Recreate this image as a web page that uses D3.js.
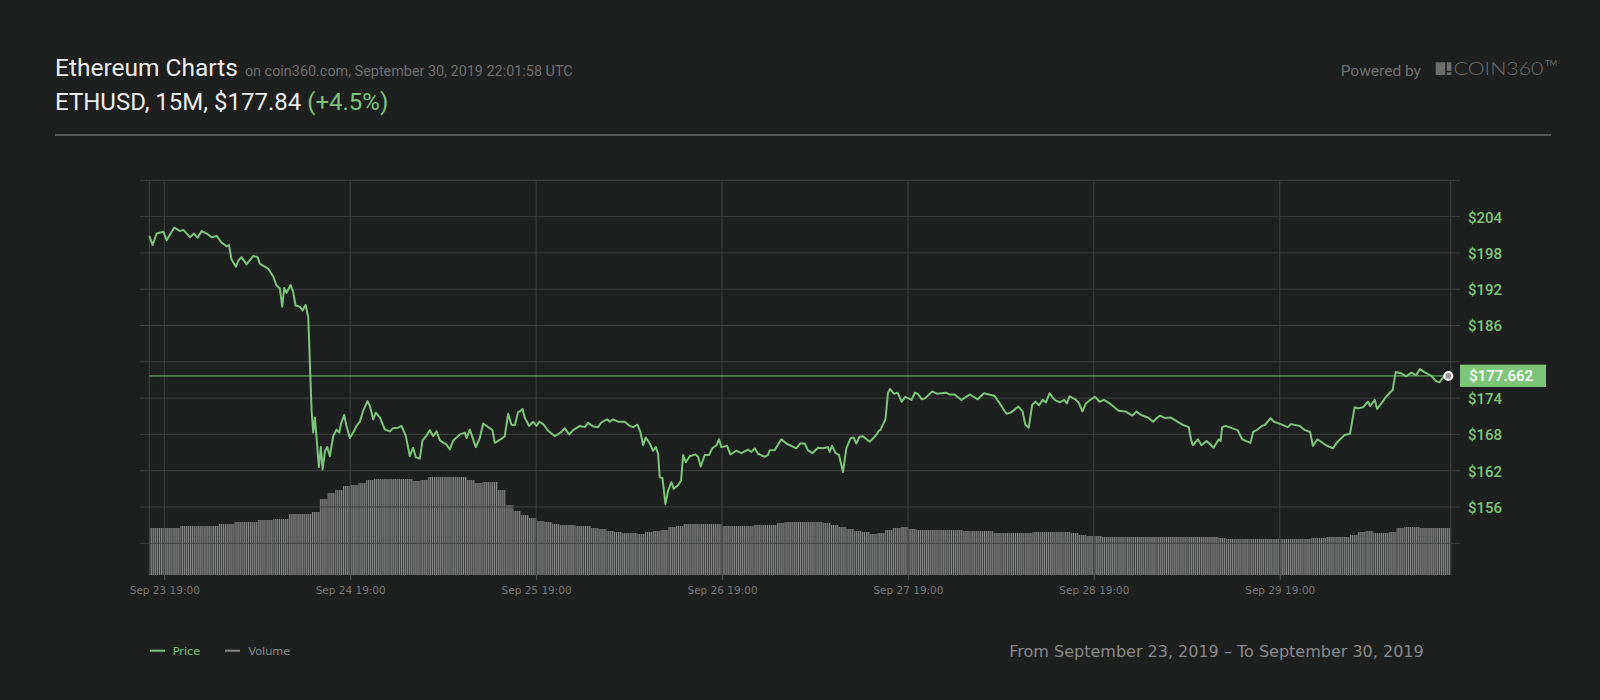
<!DOCTYPE html>
<html><head><meta charset="utf-8">
<script src="https://cdn.jsdelivr.net/npm/d3@7"></script>
<style>
html,body{margin:0;padding:0;background:#1e1f1f;}
svg{display:block;}
</style></head><body>
<svg id="chart" width="1600" height="700"></svg>
<script>
// ---------- DATA ----------
const startTime = Date.UTC(2019, 8, 23, 17, 4);   // left edge of the plot
const spanHours = 168;

// price points: hours after startTime, and price in USD
const priceHours = [
  0,0.43,0.95,1.81,2.24,2.88,3.23,3.96,4.39,5.25,5.76,6.24,6.75,7.40,8.04,8.69,9.33,9.98,10.28,10.62,
  11.18,11.48,11.91,12.56,13.42,13.98,14.28,15.35,16.00,16.43,16.86,17.16,17.42,17.72,18.24,18.58,18.88,19.44,19.78,20.17,
  20.52,20.73,20.95,21.16,21.38,21.59,21.89,22.15,22.37,22.67,22.97,23.31,23.74,24.17,24.52,24.73,25.16,25.46,25.89,26.32,
  26.75,27.18,27.61,28.17,28.47,28.90,29.25,29.76,30.41,31.05,31.48,32.13,32.56,33.12,33.63,34.06,34.41,34.92,35.27,35.78,
  36.22,36.65,37.08,37.51,38.37,38.80,39.23,40.09,40.73,40.95,41.38,42.15,42.67,43.10,44.30,44.60,45.59,45.89,46.32,46.75,
  47.18,47.61,47.83,48.18,48.48,49.04,49.55,49.98,50.33,50.84,51.49,52.35,53.0,53.64,54.2,54.72,55.58,56.22,56.65,57.3,
  57.94,58.37,59.1,59.45,59.88,60.52,61.38,62.02,62.45,63.01,63.4,63.75,64.09,64.6,65.03,65.38,65.68,65.89,66.24,66.63,
  66.97,67.4,67.7,68.26,68.65,68.91,69.25,69.77,70.5,70.84,71.19,71.7,72.26,72.69,73.21,73.55,73.85,74.58,75.01,75.79,
  76.43,77.29,77.72,78.15,78.58,79.44,79.87,80.09,80.73,81.59,82.24,83.53,84.04,84.6,85.03,85.59,86.32,86.97,87.61,87.83,
  88.13,88.6,89.03,89.55,89.98,90.54,90.92,91.27,91.7,92.13,92.99,93.64,94.2,94.37,95.03,95.35,95.61,96.15,96.6,96.83,
  97.14,97.58,97.94,98.39,98.83,99.28,99.72,100.17,101.06,101.73,102.84,103.29,103.95,104.84,105.96,106.94,107.74,109.08,109.75,110.64,
  111.2,112.19,112.73,113.09,113.53,113.97,114.42,114.86,115.31,115.76,116.21,116.88,117.55,118.12,118.44,118.8,119.55,120.0,120.45,120.9,
  121.56,122.09,122.67,123.25,124.01,125.12,126.01,126.9,127.44,128.02,128.91,129.59,130.03,130.48,131.15,131.82,132.71,133.38,134.18,134.49,
  134.71,135.38,135.83,136.5,137.39,138.06,138.29,138.5,138.94,139.84,140.5,141.08,141.61,142.15,142.5,142.95,143.62,144.06,144.73,145.18,
  146.07,146.95,147.4,148.52,149.19,149.86,150.2,150.8,151.9,152.8,153.4,154.3,155.0,155.6,156.0,156.7,157.3,157.6,158.2,158.5,
  159.1,159.7,160.3,160.5,160.9,161.6,162.25,162.89,163.54,164.05,164.6,165.47,166.12,166.54,166.97,167.4,167.7
];
const priceValues = [
  200.8,199.3,201.2,201.5,200.1,201.5,202.2,201.6,201.8,200.6,201.2,200.5,201.6,201.2,200.6,200.8,199.7,199.1,199.3,196.9,
  195.7,196.7,197.3,196.1,197.5,197.3,196.2,195.4,194.1,192.6,192.1,189.1,192.2,191.4,192.7,191.5,189.3,189.1,188.5,189.4,
  187.4,179.8,171.9,168.3,170.8,167.5,162.6,165.9,162.2,165.2,165.9,164.4,167.7,168.8,168.3,169.7,171.2,169.4,167.4,168.3,
  169.4,170.1,171.9,173.5,172.7,170.5,171.6,170.8,168.8,168.5,169.0,169.1,169.4,167.7,164.4,165.8,164.2,164.0,167.0,167.8,
  168.7,167.7,168.5,167.0,166.3,165.5,167.0,168.0,168.3,167.4,168.8,165.9,167.4,169.8,168.7,166.6,167.4,167.7,171.4,169.6,
  169.5,171.7,171.8,172.2,170.7,169.4,170.1,169.4,170.1,169.7,168.6,167.7,168.2,169.0,168.0,168.7,169.4,169.2,169.9,169.3,
  169.2,170.0,170.5,170.1,170.5,170.1,170.1,169.4,169.2,169.6,168.4,166.2,167.5,166.5,165.3,165.9,164.8,160.9,160.8,156.5,
  158.7,160.1,159.0,159.6,160.4,164.6,163.4,164.4,164.7,164.3,162.7,164.6,164.6,165.7,166.2,167.2,165.9,166.1,164.7,165.3,
  164.9,165.5,165.1,165.7,164.8,164.3,164.6,165.4,165.4,167.2,166.5,165.7,166.5,166.5,165.4,164.9,165.8,165.7,165.9,165.1,
  166.1,164.9,164.6,161.8,165.7,167.4,167.5,166.5,167.6,167.7,166.8,167.6,168.6,168.7,170.5,174.8,175.5,174.7,174.9,174.2,
  173.4,174.2,174.0,173.7,174.9,174.6,173.8,174.0,175.1,174.7,174.9,174.6,174.6,173.7,174.6,173.8,174.8,174.4,173.2,171.4,
  171.6,172.6,171.8,169.6,169.1,172.9,173.4,172.8,173.7,173.3,174.8,173.7,173.3,173.7,173.1,174.3,173.8,173.2,171.8,173.1,
  173.8,174.2,173.4,173.7,173.1,171.9,171.8,171.1,171.8,171.2,170.8,170.1,170.7,171.1,170.7,170.8,170.1,169.6,169.2,167.1,
  166.2,167.2,166.2,166.9,165.8,167.2,166.9,169.2,169.4,169.0,168.7,167.2,166.9,166.6,168.4,168.7,169.4,169.6,170.7,170.1,
  169.7,169.2,169.7,169.4,168.7,168.4,166.1,167.2,166.2,165.7,166.8,167.9,168.1,172.5,172.3,172.5,173.4,172.7,173.7,172.2,
  173.2,174.3,175.1,175.3,178.3,178.1,177.6,178.2,177.8,178.8,178.3,177.7,176.8,176.6,177.3,177.9,177.66
];

// hourly volume (relative bar height), one value per hour from startTime
const volumeValues = [
  47,47,47,47,49,49,49,49,49,51,51,53,53,53,55,55,56,56,61,61,61,63,76,82,
  85,89,90,92,95,96,96,96,96,96,94,95,98,98,98,98,98,95,92,93,93,85,70,64,
  60,57,54,53,51,50,50,49,49,47,46,44,43,42,42,41,43,44,45,48,49,51,51,51,
  51,51,49,49,49,49,50,50,50,52,53,53,53,53,53,52,50,48,46,44,43,41,42,45,
  47,48,46,45,45,45,45,45,45,44,44,44,44,42,42,42,42,42,43,43,43,43,43,42,
  40,39,39,38,38,38,38,38,38,38,38,38,38,38,38,38,38,38,37,36,36,36,36,36,
  36,36,36,36,36,36,37,37,38,38,38,40,43,44,42,42,43,47,48,48,47,47,47,47
];

const priceGrid = [150,156,162,168,174,180,186,192,198,204,210];
const priceLabels = [156,162,168,174,186,192,198,204];
const dateTicks = ["2019-09-23T19:00:00Z","2019-09-24T19:00:00Z","2019-09-25T19:00:00Z",
  "2019-09-26T19:00:00Z","2019-09-27T19:00:00Z","2019-09-28T19:00:00Z","2019-09-29T19:00:00Z"];
const lastPrice = 177.662;

// ---------- STYLE ----------
const GREEN = "#7cc579";
const GRID = "#3f4040";
const plot = {left:149.3, right:1450.7, top:180.3, price150:543.3, bottom:575};

const svg = d3.select("#chart");
svg.append("rect").attr("width",1600).attr("height",700).attr("fill","#1e1f1f");

const x = d3.scaleUtc()
  .domain([new Date(startTime), new Date(startTime + spanHours*3600e3)])
  .range([plot.left, plot.right]);
const y = d3.scaleLinear().domain([150,210]).range([plot.price150, plot.top]);
const yVol = d3.scaleLinear().domain([0,100]).range([plot.bottom, plot.bottom-100]);
const hourDate = h => new Date(startTime + h*3600e3);

// pattern for thin volume bars
const defs = svg.append("defs");
const pat = defs.append("pattern").attr("id","stripes").attr("patternUnits","userSpaceOnUse")
  .attr("x", plot.left).attr("y",0).attr("width", (x(hourDate(1))-x(hourDate(0)))/4).attr("height",20);
pat.append("rect").attr("width",1.25).attr("height",20).attr("fill","#8a8a8a");

// ---------- HEADER ----------
const t1 = svg.append("text").attr("x",55).attr("y",76)
  .attr("font-family","Roboto").attr("font-size",24.5).attr("fill","#ececec").text("Ethereum Charts");
const w1 = t1.node().getComputedTextLength();
svg.append("text").attr("x",55+w1+7).attr("y",76)
  .attr("font-family","Roboto").attr("font-size",14.4).attr("fill","#707070")
  .text("on coin360.com, September 30, 2019 22:01:58 UTC");
const t2 = svg.append("text").attr("x",55).attr("y",109.5)
  .attr("font-family","Roboto").attr("font-size",24).attr("fill","#ececec");
t2.append("tspan").text("ETHUSD, 15M, $177.84 ");
t2.append("tspan").attr("fill",GREEN).text("(+4.5%)");

svg.append("text").attr("x",1340.7).attr("y",75.5)
  .attr("font-family","Roboto").attr("font-size",15.5).attr("fill","#727272").text("Powered by");
// logo
svg.append("rect").attr("x",1435.7).attr("y",62.3).attr("width",9.5).attr("height",12.7).attr("fill","#6e6e6e");
svg.append("rect").attr("x",1446.8).attr("y",62.3).attr("width",4.6).attr("height",8.6).attr("fill","#6e6e6e");
svg.append("rect").attr("x",1446.8).attr("y",72.3).attr("width",4.6).attr("height",2.7).attr("fill","#6e6e6e");
svg.append("text").attr("x",1453.5).attr("y",75.2)
  .attr("font-family","Lato").attr("font-weight",300).attr("font-size",18)
  .attr("textLength",90).attr("lengthAdjust","spacingAndGlyphs")
  .attr("fill","#6e6e6e").text("COIN360");
svg.append("text").attr("x",1545).attr("y",65.5)
  .attr("font-family","Lato").attr("font-size",8).attr("fill","#6e6e6e").text("TM");

svg.append("line").attr("x1",55).attr("x2",1551).attr("y1",135).attr("y2",135)
  .attr("stroke","#555").attr("stroke-width",2);

// ---------- VOLUME ----------
svg.append("g").selectAll("rect").data(volumeValues).join("rect")
  .attr("x",(d,i)=>x(hourDate(i)))
  .attr("width",(d,i)=>x(hourDate(i+1))-x(hourDate(i)))
  .attr("y",d=>yVol(d))
  .attr("height",d=>plot.bottom-yVol(d))
  .attr("fill","url(#stripes)");

// ---------- GRID ----------
const grid = svg.append("g");
grid.selectAll("line.h").data(priceGrid).join("line").attr("class","h")
  .attr("x1",140).attr("x2",1460).attr("y1",d=>y(d)).attr("y2",d=>y(d))
  .attr("stroke",GRID).attr("stroke-width",1);
const vlines = [new Date(startTime), ...dateTicks.map(d=>new Date(d)), new Date(startTime+spanHours*3600e3)];
grid.selectAll("line.v").data(vlines).join("line").attr("class","v")
  .attr("x1",d=>x(d)).attr("x2",d=>x(d)).attr("y1",plot.top).attr("y2",plot.bottom)
  .attr("stroke",GRID).attr("stroke-width",1);

// ---------- X AXIS ----------
const xAxis = d3.axisBottom(x).tickValues(dateTicks.map(d=>new Date(d)))
  .tickFormat(d3.utcFormat("%b %d %H:%M")).tickSize(5).tickPadding(5);
const gx = svg.append("g").attr("transform",`translate(0,${plot.bottom})`).call(xAxis);
gx.select(".domain").remove();
gx.selectAll(".tick line").attr("stroke","#555");
gx.selectAll(".tick text").attr("font-family","DejaVu Sans").attr("font-size",10.5)
  .attr("fill","#777").attr("dy",0).attr("y",19);

// ---------- Y AXIS ----------
const yAxis = d3.axisRight(y).tickValues(priceLabels).tickFormat(d=>"$"+d).tickSize(0).tickPadding(0);
const gy = svg.append("g").attr("transform",`translate(1468,0)`).call(yAxis);
gy.select(".domain").remove();
gy.selectAll(".tick text").attr("font-family","Roboto").attr("font-weight",500).attr("font-size",15)
  .attr("fill",GREEN).attr("x",0).attr("dy","0.36em");

// ---------- PRICE ----------
const pts = priceHours.map((h,i)=>({t:hourDate(h), p:priceValues[i]}));
svg.append("line").attr("x1",plot.left).attr("x2",plot.right)
  .attr("y1",y(lastPrice)).attr("y2",y(lastPrice)).attr("stroke",GREEN).attr("stroke-width",1);
svg.append("path").datum(pts)
  .attr("d", d3.line().x(d=>x(d.t)).y(d=>y(d.p)))
  .attr("fill","none").attr("stroke",GREEN).attr("stroke-width",2).attr("stroke-linejoin","round");
const last = pts[pts.length-1];
svg.append("circle").attr("cx",x(last.t)).attr("cy",y(lastPrice)).attr("r",4)
  .attr("fill","#9a9a9a").attr("stroke","#fff").attr("stroke-width",2);

// current price label
svg.append("rect").attr("x",1460).attr("y",y(lastPrice)-11.3).attr("width",86).attr("height",22.3).attr("fill",GREEN);
svg.append("text").attr("x",1469.3).attr("y",y(lastPrice)).attr("dy","0.36em")
  .attr("font-family","Roboto").attr("font-weight",500).attr("font-size",15).attr("fill","#fff")
  .text("$"+lastPrice.toFixed(3));

// ---------- LEGEND ----------
svg.append("line").attr("x1",150).attr("x2",165).attr("y1",650.7).attr("y2",650.7).attr("stroke",GREEN).attr("stroke-width",2);
svg.append("text").attr("x",172.7).attr("y",654.8).attr("font-family","DejaVu Sans").attr("font-size",11.3)
  .attr("fill",GREEN).text("Price");
svg.append("line").attr("x1",225).attr("x2",240).attr("y1",650.7).attr("y2",650.7).attr("stroke","#8a8a8a").attr("stroke-width",2);
svg.append("text").attr("x",248.3).attr("y",654.8).attr("font-family","DejaVu Sans").attr("font-size",11.3)
  .attr("fill","#8a8a8a").text("Volume");

svg.append("text").attr("x",1009.3).attr("y",656.7).attr("font-family","DejaVu Sans").attr("font-size",16)
  .attr("fill","#8a8a8a").text("From September 23, 2019 \u2013 To September 30, 2019");
</script>
</body></html>
